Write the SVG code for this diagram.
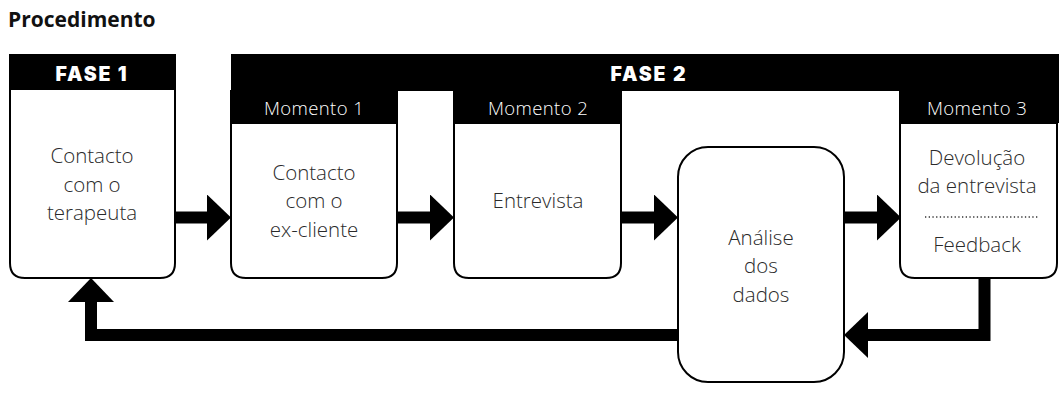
<svg xmlns="http://www.w3.org/2000/svg" width="1059" height="396" viewBox="0 0 1059 396">
<style>
.box{fill:#fff;stroke:#000;stroke-width:2}
.hdr{fill:#000}
.title{font-family:"Open Sans","Liberation Sans",sans-serif;font-weight:700;font-size:21px;fill:#111}
.fase{font-family:Inter,"DejaVu Sans",sans-serif;font-weight:900;font-size:19.5px;fill:#fff;text-anchor:middle;letter-spacing:1.8px}
.mom{font-family:"Open Sans","Liberation Sans",sans-serif;font-weight:300;font-size:18.5px;fill:#fff;text-anchor:middle;letter-spacing:0.4px}
.lbl{font-family:"Open Sans","Liberation Sans",sans-serif;font-weight:300;font-size:20.5px;fill:#2a2a2a;text-anchor:middle}
.conn{fill:none;stroke:#000;stroke-width:12;stroke-linejoin:miter}
</style>
<defs>
<marker id="head" markerUnits="userSpaceOnUse" markerWidth="24" markerHeight="46" viewBox="0 0 24 46" refX="0" refY="23" orient="auto">
<path d="M0,0 L24,23 L0,46 Z" fill="#000"/>
</marker>
</defs>
<rect width="1059" height="396" fill="#fff"/>
<text class="title" x="8" y="27">Procedimento</text>

<g id="fase2-header">
<rect class="hdr" x="231" y="54" width="828" height="37"/>
<text class="fase" x="649" y="81">FASE 2</text>
</g>

<g id="fase1">
<path class="box" d="M10,89 H175 V263 Q175,278 160,278 H25 Q10,278 10,263 Z"/>
<rect class="hdr" x="9" y="54" width="167" height="35"/>
<text class="fase" x="92" y="81">FASE 1</text>
<text class="lbl" x="92" y="163">Contacto</text>
<text class="lbl" x="92" y="192">com o</text>
<text class="lbl" x="92" y="220">terapeuta</text>
</g>

<g id="momento1">
<path class="box" d="M231,123 H397 V263 Q397,278 382,278 H246 Q231,278 231,263 Z"/>
<rect class="hdr" x="230" y="90" width="168" height="33"/>
<text class="mom" x="314" y="115">Momento 1</text>
<text class="lbl" x="314" y="180">Contacto</text>
<text class="lbl" x="314" y="208">com o</text>
<text class="lbl" x="314" y="237">ex-cliente</text>
</g>

<g id="momento2">
<path class="box" d="M454,123 H621 V263 Q621,278 606,278 H469 Q454,278 454,263 Z"/>
<rect class="hdr" x="453" y="90" width="169" height="33"/>
<text class="mom" x="538" y="115">Momento 2</text>
<text class="lbl" x="538" y="208">Entrevista</text>
</g>

<g id="momento3">
<path class="box" d="M900,123 H1057 V263 Q1057,278 1042,278 H915 Q900,278 900,263 Z"/>
<rect class="hdr" x="899" y="90" width="160" height="33"/>
<text class="mom" x="977" y="115">Momento 3</text>
<text class="lbl" x="977" y="165">Devolução</text>
<text class="lbl" x="977" y="193">da entrevista</text>
<line x1="925" y1="217" x2="1039" y2="217" stroke="#333" stroke-width="1.3" stroke-dasharray="1.3 2.4"/>
<text class="lbl" x="977" y="252">Feedback</text>
</g>

<g id="analise">
<rect class="box" x="678" y="147" width="166" height="235" rx="30" ry="30"/>
<text class="lbl" x="761" y="245">Análise</text>
<text class="lbl" x="761" y="273">dos</text>
<text class="lbl" x="761" y="302">dados</text>
</g>

<g id="connectors">
<path class="conn" d="M176,217.5 H207" marker-end="url(#head)"/>
<path class="conn" d="M398,217.5 H430" marker-end="url(#head)"/>
<path class="conn" d="M622,217.5 H654" marker-end="url(#head)"/>
<path class="conn" d="M845,217.5 H877" marker-end="url(#head)"/>
<path class="conn" d="M984.5,279 V335 H868" marker-end="url(#head)"/>
<path class="conn" d="M677,335 H91 V302" marker-end="url(#head)"/>
</g>
</svg>
